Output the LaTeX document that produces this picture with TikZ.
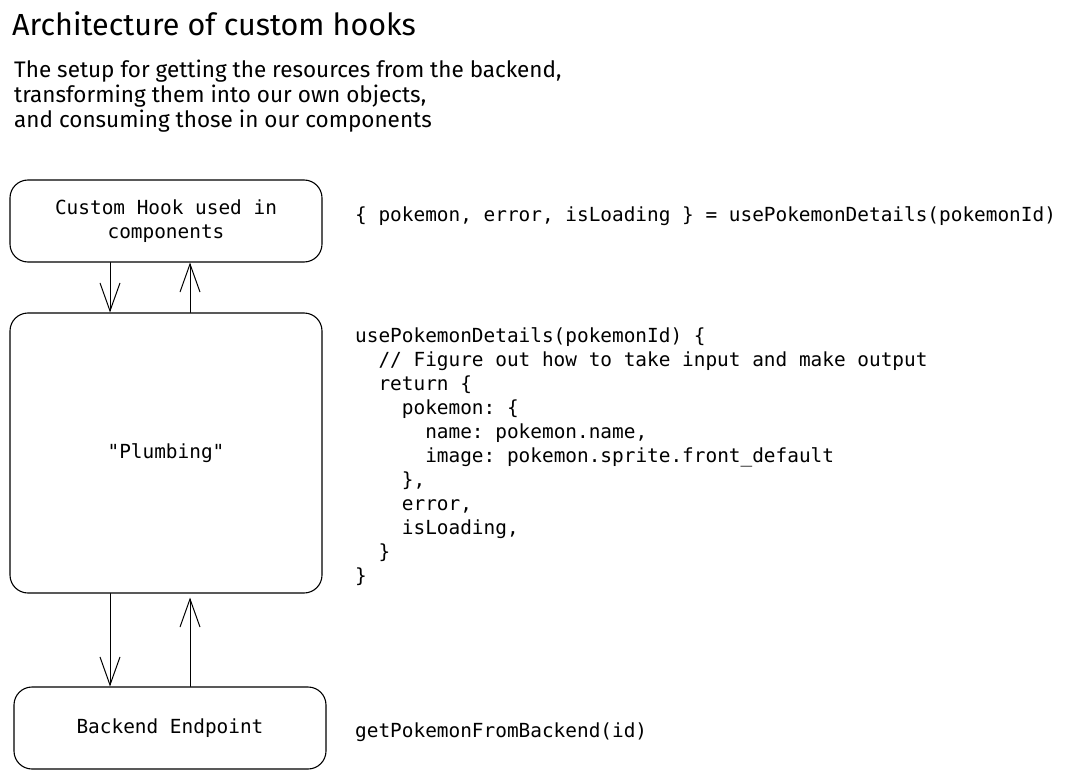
\documentclass[tikz,border=0pt]{standalone}
\usepackage{fontspec}
\setmainfont{Fira Sans}
\setmonofont{DejaVu Sans Mono}
\usetikzlibrary{arrows.meta}

\begin{document}
\begin{tikzpicture}
		[x=1pt,y=-1pt,line cap=round,
		%Styles
		block/.style={draw,line width=1.1pt,rounded corners=18pt,minimum width=312pt,inner sep=0pt,
			align=center,font=\ttfamily\fontsize{19.4}{24}\selectfont},
		flow/.style={line width=1pt,-{Straight Barb[length=28pt,width=20pt,line width=1pt]}},
		code text/.style={anchor=base west,inner sep=0pt,align=left,font=\ttfamily\fontsize{19.4}{24}\selectfont},
		hand text/.style={anchor=base west,inner sep=0pt,align=left}
		]
		\useasboundingbox (0,0) rectangle (1065,778);
		
		%Heading
		\node[hand text,font=\fontsize{30.5}{34}\selectfont] (title) at (12,36) {Architecture of custom hooks};
		\node[hand text,font=\fontsize{22.5}{25}\selectfont,anchor=north west] (intro) at (14,60)
			{The setup for getting the resources from the backend,\\
			 transforming them into our own objects,\\
			 and consuming those in our components};
		
		%The graphic
		\node[block,minimum height=82pt] (hook) at (166,221) {Custom Hook used in\\components};
		\node[block,minimum height=280pt] (plumbing) at (166,453) {"Plumbing"};
		\node[block,minimum height=82pt] (backend) at (170,728) {Backend Endpoint};
		
		\draw[flow] ([xshift=-56pt]hook.south) -- ([xshift=-56pt]plumbing.north);
		\draw[flow] ([xshift=24pt]plumbing.north) -- ([xshift=24pt]hook.south);
		\draw[flow] ([xshift=-56pt]plumbing.south) -- ([xshift=-60pt]backend.north);
		\draw[flow] ([xshift=20pt]backend.north) -- ([xshift=24pt,yshift=-4pt]plumbing.south);
		
		%Code
		\node[code text] (call) at (355,222) {\{ pokemon, error, isLoading \} = usePokemonDetails(pokemonId)};
		\node[code text,anchor=north west] (hookcode) at (355,327)
			{usePokemonDetails(pokemonId) \{\\
			 ~~// Figure out how to take input and make output\\
			 ~~return \{\\
			 ~~~~pokemon: \{\\
			 ~~~~~~name: pokemon.name,\\
			 ~~~~~~image: pokemon.sprite.front\_default\\
			 ~~~~\},\\
			 ~~~~error,\\
			 ~~~~isLoading,\\
			 ~~\}\\
			 \}};
		\node[code text] (fetch) at (355,737) {getPokemonFromBackend(id)};
	\end{tikzpicture}
\end{document}
